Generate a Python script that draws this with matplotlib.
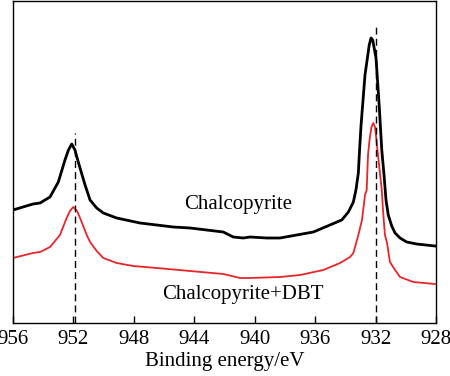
import matplotlib
matplotlib.use("Agg")
import matplotlib.pyplot as plt

plt.rcParams['font.family'] = ['Liberation Serif', 'DejaVu Serif']

# Cu 2p spectra, binding energy (eV) vs intensity (a.u., offset)
energy_cp = [956.00, 954.68, 954.21, 953.55, 953.00, 952.56, 952.33, 952.11,
             951.90, 951.68, 951.23, 950.90, 950.46, 950.02, 949.14, 947.59,
             946.49, 945.39, 944.28, 943.18, 942.08, 941.42, 940.76, 940.31,
             939.19, 938.33, 937.22, 936.12, 935.02, 934.24, 933.80, 933.47,
             933.30, 933.14, 933.06, 932.96, 932.83, 932.70, 932.42, 932.30,
             932.19, 931.97, 931.75, 931.59, 931.44, 931.31, 931.16, 930.93,
             930.71, 930.38, 929.94, 929.28, 928.07]
inten_cp = [113, 119, 120, 126, 141, 163, 173, 179,
            173, 161, 138, 123, 115, 110, 105, 100,
            98, 96, 95, 93, 91, 86, 85, 86,
            85, 85, 88, 91, 98, 103, 111, 121,
            133, 150, 173, 198, 223, 248, 278, 285,
            283, 265, 215, 173, 148, 123, 108, 97,
            90, 85, 81, 79, 77]

energy_dbt = [956.00, 954.68, 954.21, 953.55, 952.89, 952.45, 952.23, 952.01,
              951.76, 951.56, 951.12, 950.90, 950.46, 950.02, 949.14, 948.04,
              946.49, 944.28, 942.08, 940.97, 940.31, 938.33, 937.00, 935.46,
              934.35, 933.69, 933.47, 933.14, 932.90, 932.70, 932.59, 932.50,
              932.40, 932.27, 932.15, 932.04, 931.94, 931.84, 931.59, 931.51,
              931.38, 931.24, 931.05, 930.71, 930.38, 929.50, 928.07]
inten_dbt = [65, 70, 71, 76, 88, 105, 112, 116,
             112, 105, 88, 81, 72, 65, 60, 57,
             55, 52, 49, 45, 45, 46, 48, 53,
             60, 66, 70, 88, 103, 128, 133, 168,
             183, 196, 200, 196, 183, 168, 133, 113,
             88, 80, 61, 53, 46, 41, 39]

peak_pos = [951.9, 932.0]
peak_top = [190, 296]

xticks = [956, 952, 948, 944, 940, 936, 932, 928]

fig = plt.figure(figsize=(4.5, 3.76), dpi=100)
ax = fig.add_axes([13 / 450, 53 / 376, 423 / 450, 322 / 376])

ax.plot(energy_cp, inten_cp, color='black', lw=2.0)
ax.plot(energy_dbt, inten_dbt, color='#e8262a', lw=1.3)

for e, top in zip(peak_pos, peak_top):
    ax.plot([e, e], [0, top], color='black', lw=1.0, ls=(0, (5, 3)))

ax.text(941.1, 119, 'Chalcopyrite', ha='center', va='center', fontsize=15)
ax.text(940.8, 28, 'Chalcopyrite+DBT', ha='center', va='center', fontsize=15)

ax.set_xlim(956, 928)
ax.set_ylim(0, 322)
ax.set_xticks(xticks)
ax.set_xticklabels([str(t) for t in xticks])
ax.set_yticks([])
ax.tick_params(axis='x', direction='in', length=5, width=1, labelsize=15, pad=5)
for s in ax.spines.values():
    s.set_linewidth(1.0)
ax.set_xlabel('Binding energy/eV', fontsize=15, labelpad=2)

fig.savefig('out.png', dpi=100)
